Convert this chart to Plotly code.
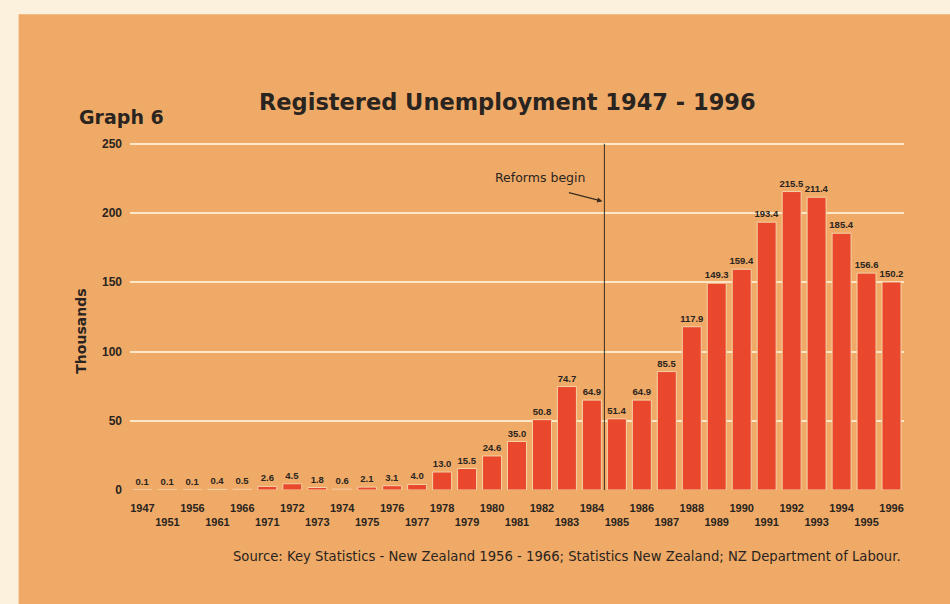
import plotly.graph_objects as go

# Registered unemployment, thousands
years = ["1947", "1951", "1956", "1961", "1966", "1971", "1972", "1973", "1974",
         "1975", "1976", "1977", "1978", "1979", "1980", "1981", "1982", "1983",
         "1984", "1985", "1986", "1987", "1988", "1989", "1990", "1991", "1992",
         "1993", "1994", "1995", "1996"]
unemployed = [0.1, 0.1, 0.1, 0.4, 0.5, 2.6, 4.5, 1.8, 0.6, 2.1, 3.1, 4.0, 13.0,
              15.5, 24.6, 35.0, 50.8, 74.7, 64.9, 51.4, 64.9, 85.5, 117.9, 149.3,
              159.4, 193.4, 215.5, 211.4, 185.4, 156.6, 150.2]
y_ticks = [0, 50, 100, 150, 200, 250]
reform_between = ("1984", "1985")

W, H = 950, 604
Y_TOP = 252.0
L, R, B = 129.5, 904.5, 490.0
PX_PER_UNIT = 346.5 / 250
T = B - PX_PER_UNIT * Y_TOP
FONT = "Liberation Sans, Arial, Helvetica, sans-serif"
WIDE = "DejaVu Sans, Verdana, sans-serif"
INK = "#2a2420"
ORANGE = "#EFAA67"
CREAM = "#FBF1DC"
BAR = "#E9482C"
GRID = "#FCE8C6"


def px(x):
    return (x - L) / (R - L)


def py(y):
    return (B - y) / (B - T)


# alternate the year labels between two rows
ticktext = [y if i % 2 == 0 else "<br>" + y for i, y in enumerate(years)]

fig = go.Figure(go.Bar(
    x=years,
    y=unemployed,
    marker=dict(color=BAR, line=dict(color="#F6D2A6", width=1)),
    text=[f"{v:.1f}" for v in unemployed],
    textposition="outside",
    textfont=dict(family=FONT, size=9.5, color=INK, weight="bold"),
    constraintext="none",
    cliponaxis=False,
    hoverinfo="skip",
))

reform_x = (years.index(reform_between[0]) + years.index(reform_between[1])) / 2

fig.update_layout(
    width=W, height=H,
    margin=dict(l=L, r=W - R, t=T, b=H - B, pad=0),
    paper_bgcolor=CREAM,
    plot_bgcolor="rgba(0,0,0,0)",
    bargap=0.24,
    showlegend=False,
    font=dict(family=FONT, color=INK),
    xaxis=dict(
        type="category",
        tickmode="array", tickvals=years, ticktext=ticktext,
        tickangle=0,
        tickfont=dict(family=FONT, size=11, color=INK, weight="bold"),
        showgrid=False, showline=False, zeroline=False, ticks="",
        ticklabelstandoff=10,
    ),
    yaxis=dict(
        range=[0, Y_TOP],
        tickmode="array", tickvals=y_ticks,
        tickfont=dict(family=FONT, size=12, color=INK, weight="bold"),
        showgrid=True, gridcolor=GRID, gridwidth=2,
        zeroline=False, showline=False, ticks="",
        ticklabelstandoff=7,
    ),
    shapes=[
        # orange page area inside the cream border
        dict(type="rect", xref="paper", yref="paper",
             x0=px(18), x1=px(W + 5), y0=py(H + 5), y1=py(14),
             fillcolor=ORANGE, line=dict(width=0), layer="below"),
        # marker for the start of the reforms
        dict(type="line", xref="x", yref="y",
             x0=reform_x, x1=reform_x, y0=0, y1=250,
             line=dict(color="#3b2c22", width=1), layer="above"),
    ],
    annotations=[
        dict(text="<b>Registered Unemployment 1947 - 1996</b>",
             xref="paper", yref="paper", x=px(507), y=py(102),
             showarrow=False, font=dict(family=WIDE, size=22.5, color=INK),
             xanchor="center", yanchor="middle"),
        dict(text="<b>Graph 6</b>",
             xref="paper", yref="paper", x=px(76), y=py(117),
             showarrow=False, font=dict(family=WIDE, size=19, color=INK),
             xanchor="left", yanchor="middle"),
        dict(text="<b>Thousands</b>",
             xref="paper", yref="paper", x=px(81), y=py(331),
             textangle=-90, showarrow=False,
             font=dict(family=WIDE, size=14, color=INK),
             xanchor="center", yanchor="middle"),
        dict(text="Reforms begin",
             xref="paper", yref="paper", x=px(540), y=py(177),
             showarrow=False, font=dict(family=WIDE, size=12.5, color=INK),
             xanchor="center", yanchor="middle"),
        dict(text="", xref="x", yref="y", x=reform_x - 0.08,
             y=(B - 201) / PX_PER_UNIT,
             showarrow=True, ax=-35, ay=-9, arrowhead=2, arrowsize=0.8,
             arrowwidth=1.3, arrowcolor="#3b2c22"),
        dict(text="Source: Key Statistics - New Zealand 1956 - 1966; "
                  "Statistics New Zealand; NZ Department of Labour.",
             xref="paper", yref="paper", x=px(903), y=py(557),
             showarrow=False, font=dict(family=WIDE, size=13.2, color=INK),
             xanchor="right", yanchor="middle"),
    ],
)

fig.write_html("out.html")
